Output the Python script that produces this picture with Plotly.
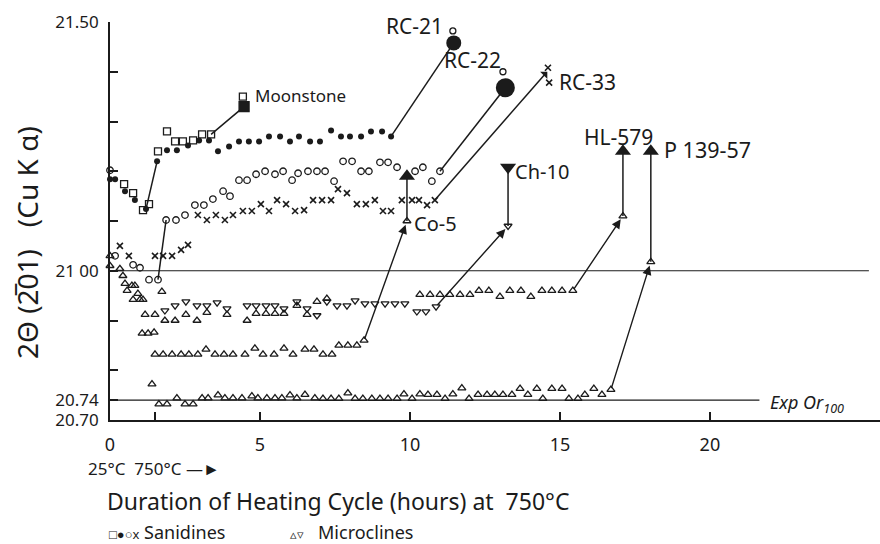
import plotly.graph_objects as go

# ---------------- data (hours, 2-theta degrees) ----------------
# Sanidines
MOON_A_X = [0.47, 0.77, 1.10, 1.30]
MOON_A_Y = [21.174, 21.156, 21.122, 21.134]
MOON_B_X = [1.60, 1.90, 2.17, 2.43, 2.77, 3.07, 3.37]
MOON_B_Y = [21.240, 21.280, 21.260, 21.260, 21.262, 21.274, 21.274]
MOON_END_OPEN = (4.43, 21.350)
MOON_END_FILL = (4.47, 21.330)

RC21_A_X = [0.0, 0.17, 0.5, 0.83, 1.2]
RC21_A_Y = [21.184, 21.184, 21.16, 21.142, 21.124]
RC21_B_X = [1.57, 1.9, 2.23, 2.6, 2.97, 3.3, 3.6, 3.97, 4.3, 4.63, 4.97, 5.3, 5.67, 6.0,
            6.3, 6.67, 7.0, 7.37, 7.7, 8.0, 8.37, 8.7, 9.07, 9.37]
RC21_B_Y = [21.22, 21.242, 21.242, 21.252, 21.262, 21.262, 21.24, 21.25, 21.26, 21.26, 21.26,
            21.27, 21.27, 21.26, 21.27, 21.26, 21.26, 21.282, 21.27, 21.27, 21.27, 21.28, 21.28, 21.27]
RC21_END_OPEN = (11.43, 21.482)
RC21_END_FILL = (11.46, 21.458)

RC22_A_X = [0.0, 0.17, 0.77, 1.0, 1.3, 1.6]
RC22_A_Y = [21.202, 21.03, 21.012, 21.006, 20.982, 20.982]
RC22_B_X = [1.87, 2.2, 2.5, 2.83, 3.13, 3.43, 3.77, 4.0, 4.3, 4.57, 4.87, 5.17, 5.5, 5.77, 6.07,
            6.27, 6.6, 6.9, 7.17, 7.47, 7.77, 8.07, 8.37, 8.63, 9.0, 9.27, 9.57, 10.17, 10.43,
            10.73, 11.0]
RC22_B_Y = [21.102, 21.102, 21.112, 21.132, 21.132, 21.144, 21.16, 21.15, 21.182, 21.182, 21.194,
            21.2, 21.194, 21.2, 21.182, 21.196, 21.2, 21.2, 21.2, 21.18, 21.22, 21.22, 21.2, 21.2,
            21.218, 21.218, 21.208, 21.2, 21.208, 21.18, 21.2]
RC22_END_OPEN = (13.1, 21.40)
RC22_END_FILL = (13.18, 21.368)

RC33_X = [0.33, 0.63, 1.5, 1.77, 2.07, 2.37, 2.6, 2.93, 3.23, 3.53, 3.83, 4.1, 4.43, 4.73, 5.03,
          5.3, 5.57, 5.87, 6.17, 6.47, 6.77, 7.07, 7.37, 7.6, 7.9, 8.23, 8.53, 8.83, 9.1, 9.37,
          9.73, 10.07, 10.3, 10.57, 10.83]
RC33_Y = [21.05, 21.03, 21.03, 21.03, 21.03, 21.042, 21.052, 21.112, 21.102, 21.112, 21.102,
          21.112, 21.12, 21.12, 21.134, 21.12, 21.142, 21.134, 21.12, 21.122, 21.142, 21.142,
          21.142, 21.164, 21.156, 21.134, 21.134, 21.142, 21.12, 21.12, 21.142, 21.142, 21.142,
          21.132, 21.142]
RC33_END_X = [14.6, 14.64]
RC33_END_Y = [21.408, 21.378]
RC33_HEAD = (14.5, 21.395)

# Microclines
EARLY_TRI_X = [0.0, 0.0, 0.33, 0.43, 0.5, 0.57, 0.73, 0.83, 0.93, 0.77, 1.0, 1.1, 1.17, 1.5, 1.73]
EARLY_TRI_Y = [21.03, 21.01, 21.004, 20.99, 20.974, 20.96, 20.97, 20.97, 20.954, 20.942, 20.942,
               20.942, 20.912, 20.912, 20.958]

CO5_X = [1.07, 1.27, 1.47, 1.5, 1.77, 2.07, 2.37, 2.63, 2.93, 3.2, 3.5, 3.8, 4.1, 4.5, 4.83,
         5.1, 5.47, 5.8, 6.1, 6.5, 6.8, 7.1, 7.4, 7.63, 7.93, 8.23, 8.47]
CO5_Y = [20.874, 20.874, 20.876, 20.832, 20.832, 20.832, 20.832, 20.832, 20.832, 20.842, 20.832,
         20.832, 20.832, 20.832, 20.844, 20.832, 20.832, 20.844, 20.832, 20.842, 20.842, 20.832,
         20.832, 20.85, 20.85, 20.85, 20.86]
CO5_OPEN = (9.9, 21.10)
CO5_FILL = (9.9, 21.19)

CH10_X = [1.83, 2.17, 2.53, 2.9, 3.23, 3.57, 3.9, 4.57, 4.87, 5.2, 5.5, 5.8, 6.23, 6.57, 6.9,
          7.23, 7.57, 7.9, 8.17, 8.5, 8.83, 9.17, 9.5, 9.83, 10.23, 10.53, 10.87]
CH10_Y = [20.92, 20.93, 20.938, 20.93, 20.93, 20.936, 20.924, 20.93, 20.93, 20.93, 20.93, 20.924,
          20.938, 20.924, 20.91, 20.938, 20.93, 20.93, 20.94, 20.934, 20.934, 20.934, 20.934,
          20.934, 20.918, 20.918, 20.928]
CH10_OPEN = (13.27, 21.09)
CH10_FILL = (13.27, 21.208)

HL579_X = [1.83, 2.17, 2.53, 2.9, 3.23, 3.9, 4.57, 4.87, 5.2, 5.5, 5.8, 6.23, 6.57, 6.9, 7.23,
           10.33, 10.67, 11.0, 11.33, 11.67, 12.0, 12.3, 12.63, 13.0, 13.33, 13.7, 14.03, 14.4,
           14.73, 15.07, 15.43]
HL579_Y = [20.9, 20.9, 20.912, 20.9, 20.916, 20.912, 20.9, 20.914, 20.914, 20.914, 20.914, 20.93,
           20.912, 20.938, 20.944, 20.952, 20.952, 20.952, 20.952, 20.952, 20.952, 20.96, 20.96,
           20.948, 20.96, 20.96, 20.948, 20.96, 20.96, 20.96, 20.96]
HL579_OPEN = (17.1, 21.11)
HL579_FILL = (17.1, 21.24)

P139_X = [1.4, 1.63, 1.9, 2.23, 2.5, 2.77, 3.07, 3.27, 3.6, 3.83, 4.1, 4.4, 4.73, 4.93, 5.23,
          5.5, 5.73, 6.0, 6.23, 6.5, 6.83, 7.1, 7.37, 7.63, 7.93, 8.17, 8.43, 8.73, 9.0, 9.27,
          9.57, 9.8, 10.07, 10.33, 10.6, 10.9, 11.17, 11.43, 11.73, 11.97, 12.27, 12.57, 12.83,
          13.1, 13.4, 13.67, 13.93, 14.23, 14.43, 14.73, 15.07, 15.3, 15.6, 15.83, 16.13, 16.4,
          16.7]
P139_Y = [20.772, 20.732, 20.732, 20.744, 20.732, 20.732, 20.744, 20.744, 20.75, 20.744, 20.744,
          20.744, 20.748, 20.744, 20.744, 20.744, 20.744, 20.75, 20.744, 20.751, 20.744, 20.743,
          20.743, 20.743, 20.754, 20.743, 20.743, 20.743, 20.743, 20.743, 20.743, 20.752, 20.743,
          20.752, 20.751, 20.751, 20.743, 20.752, 20.764, 20.743, 20.751, 20.751, 20.751, 20.751,
          20.751, 20.763, 20.751, 20.763, 20.743, 20.763, 20.763, 20.743, 20.743, 20.751, 20.763,
          20.751, 20.761]
P139_OPEN = (18.03, 21.018)
P139_FILL = (18.03, 21.24)

REF_LEVELS = [21.00, 20.74]
REF_ENDS = [25.3, 21.65]

Y_TICKS = [20.70, 20.74, 20.80, 20.90, 21.00, 21.10, 21.20, 21.30, 21.40, 21.50]
Y_TICKTEXT = ["20.70", "20.74", "", "", "21 00", "", "", "", "", "21.50"]
X_TICKS = [0, 1.5, 5, 10, 15, 20]
X_TICKTEXT = ["0", "", "5", "10", "15", "20"]

# ---------------- figure ----------------
INK = "#1b1b1b"
FONT = "Noto Sans"
fig = go.Figure()


def pts(x, y, symbol, size, lw=1.3):
    fig.add_trace(go.Scatter(x=x, y=y, mode="markers", cliponaxis=False, showlegend=False,
                             marker=dict(symbol=symbol, size=size, color=INK,
                                         line=dict(color=INK, width=lw))))


def seg(p0, p1, width=1.5):
    fig.add_trace(go.Scatter(x=[p0[0], p1[0]], y=[p0[1], p1[1]], mode="lines",
                             cliponaxis=False, showlegend=False,
                             line=dict(color=INK, width=width)))


def arrow(p0, p1):
    fig.add_annotation(x=p1[0], y=p1[1], ax=p0[0], ay=p0[1], xref="x", yref="y",
                       axref="x", ayref="y", text="", showarrow=True, arrowhead=2,
                       arrowsize=1.3, arrowwidth=1.4, arrowcolor=INK, standoff=4)


# reference lines
for lvl, end in zip(REF_LEVELS, REF_ENDS):
    seg((0, lvl), (end, lvl), width=1.2)

# connecting lines (sanidines)
seg((RC21_A_X[-1], RC21_A_Y[-1]), (RC21_B_X[0], RC21_B_Y[0]))
seg((RC22_A_X[-1], RC22_A_Y[-1]), (RC22_B_X[0], RC22_B_Y[0]))
seg((MOON_B_X[-1], MOON_B_Y[-1]), MOON_END_FILL)
seg((RC21_B_X[-1], RC21_B_Y[-1]), RC21_END_FILL)
seg((RC22_B_X[-1], RC22_B_Y[-1]), RC22_END_FILL)
seg((RC33_X[-1], RC33_Y[-1]), RC33_HEAD)

# connecting lines (microclines)
arrow((CO5_X[-1], CO5_Y[-1]), CO5_OPEN)
arrow((CH10_X[-1], CH10_Y[-1]), CH10_OPEN)
arrow((HL579_X[-1], HL579_Y[-1]), HL579_OPEN)
arrow((P139_X[-1], P139_Y[-1]), P139_OPEN)
for o, f in [(CO5_OPEN, CO5_FILL), (CH10_OPEN, CH10_FILL), (HL579_OPEN, HL579_FILL),
             (P139_OPEN, P139_FILL)]:
    seg(o, f, width=1.5)

# sanidine markers
pts(MOON_A_X + MOON_B_X + [MOON_END_OPEN[0]], MOON_A_Y + MOON_B_Y + [MOON_END_OPEN[1]],
    "square-open", 7)
pts([MOON_END_FILL[0]], [MOON_END_FILL[1]], "square", 10)
pts(RC21_A_X + RC21_B_X, RC21_A_Y + RC21_B_Y, "circle", 6, lw=0)
pts([RC21_END_FILL[0]], [RC21_END_FILL[1]], "circle", 15, lw=0)
pts([RC21_END_OPEN[0]], [RC21_END_OPEN[1]], "circle-open", 6)
pts(RC22_A_X + RC22_B_X, RC22_A_Y + RC22_B_Y, "circle-open", 6.5)
pts([RC22_END_FILL[0]], [RC22_END_FILL[1]], "circle", 19, lw=0)
pts([RC22_END_OPEN[0]], [RC22_END_OPEN[1]], "circle-open", 6)
pts(RC33_X + RC33_END_X, RC33_Y + RC33_END_Y, "x-thin-open", 6, lw=1.6)
pts([RC33_HEAD[0]], [RC33_HEAD[1]], "triangle-ne", 8, lw=0)

# microcline markers
pts(EARLY_TRI_X + CO5_X + HL579_X + P139_X + [CO5_OPEN[0], HL579_OPEN[0], P139_OPEN[0]],
    EARLY_TRI_Y + CO5_Y + HL579_Y + P139_Y + [CO5_OPEN[1], HL579_OPEN[1], P139_OPEN[1]],
    "triangle-up-open", 7)
pts(CH10_X + [CH10_OPEN[0]], CH10_Y + [CH10_OPEN[1]], "triangle-down-open", 7)
pts([CO5_FILL[0], HL579_FILL[0], P139_FILL[0]], [CO5_FILL[1], HL579_FILL[1], P139_FILL[1]],
    "triangle-up", 14, lw=0)
pts([CH10_FILL[0]], [CH10_FILL[1]], "triangle-down", 14, lw=0)

# sample labels
LABELS = [("Moonstone", 4.77, 21.352, 17), ("RC-21", 9.12, 21.492, 21),
          ("RC-22", 11.08, 21.424, 21), ("RC-33", 14.9, 21.38, 21),
          ("HL-579", 15.72, 21.268, 21), ("P 139-57", 18.4, 21.244, 21.5),
          ("Ch-10", 13.45, 21.20, 20), ("Co-5", 10.08, 21.094, 20)]
for txt, lx, ly, fs in LABELS:
    fig.add_annotation(x=lx, y=ly, xref="x", yref="y", text=txt, showarrow=False,
                       xanchor="left", yanchor="middle",
                       font=dict(family=FONT, size=fs, color=INK))
fig.add_annotation(x=21.95, y=20.734, xref="x", yref="y", showarrow=False, xanchor="left",
                   yanchor="middle", text="<i>Exp Or<sub>100</sub></i>",
                   font=dict(family=FONT, size=18, color=INK))

# texts below the axis (paper coordinates; plot spans px 110..880 and 22..420)
def px_to_paper(px, py):
    return (px - 110) / 770, (420 - py) / 398


for txt, px, py, size in [
    ("25°C  750°C —►", 86, 468, 17),
    ("Duration of Heating Cycle (hours) at  750°C", 105, 501, 23),
    ("<span style='font-size:13px'>□●○x</span> Sanidines", 107, 532, 18),
    ("<span style='font-size:13px'>▵▿</span>   Microclines", 288, 532, 18),
]:
    ax_, ay_ = px_to_paper(px, py)
    fig.add_annotation(x=ax_, y=ay_, xref="paper", yref="paper", xanchor="left",
                       yanchor="middle", text=txt, showarrow=False,
                       font=dict(family=FONT, size=size, color=INK))

tx, ty = px_to_paper(27, 243)
fig.add_annotation(x=tx, y=ty, xref="paper", yref="paper", showarrow=False,
                   xanchor="center", yanchor="middle",
                   text="2Θ (2\u030501)   (Cu K α)", textangle=-90,
                   font=dict(family=FONT, size=28, color=INK))

fig.update_layout(
    width=880, height=544,
    margin=dict(l=110, r=0, t=22, b=124),
    paper_bgcolor="white", plot_bgcolor="white",
    showlegend=False,
    xaxis=dict(range=[0, 25.67], showgrid=False, zeroline=False, showline=True,
               linecolor=INK, linewidth=1.6, ticks="inside", ticklen=8, tickwidth=1.5,
               tickcolor=INK, tickvals=X_TICKS, ticktext=X_TICKTEXT, ticklabelstandoff=8,
               tickfont=dict(family=FONT, size=18, color=INK)),
    yaxis=dict(range=[20.70, 21.50], showgrid=False, zeroline=False, showline=True,
               linecolor=INK, linewidth=1.6, ticks="inside", ticklen=8, tickwidth=1.5,
               tickcolor=INK, tickvals=Y_TICKS, ticktext=Y_TICKTEXT, ticklabelstandoff=6,
               tickfont=dict(family=FONT, size=17, color=INK)),
)

fig.write_html("out.html")
